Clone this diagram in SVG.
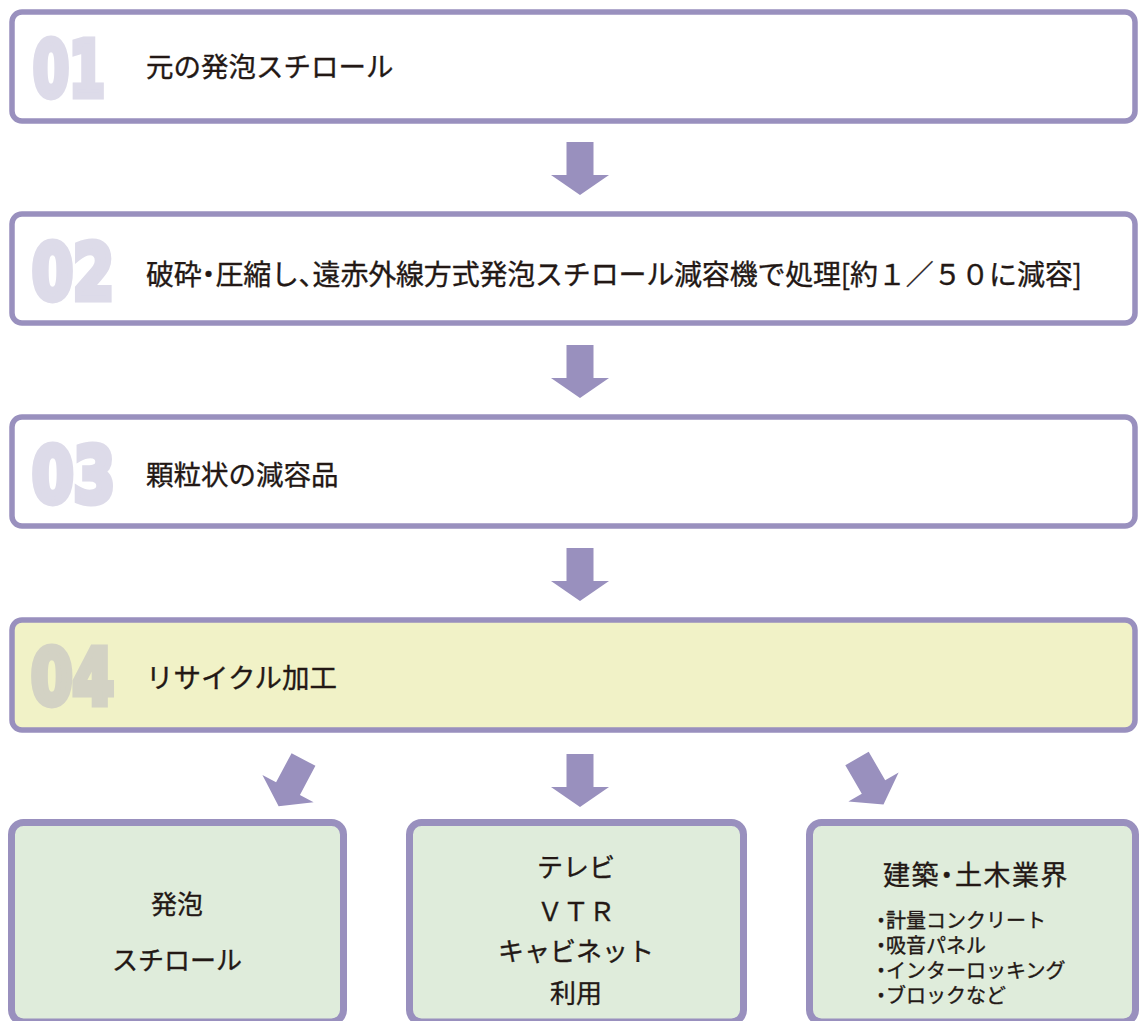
<svg xmlns="http://www.w3.org/2000/svg" width="1139" height="1021" viewBox="0 0 1139 1021">
<style>
.step{fill:#ffffff;stroke:#9990be;stroke-width:5.5}
.step4{fill:#f1f2c7;stroke:#9990be;stroke-width:5.5}
.out{fill:#dfecdb;stroke:#9990be;stroke-width:7}
.num{font-family:"DejaVu Sans",sans-serif;font-weight:bold;font-size:76px;fill:#dddbe9;stroke:#dddbe9;stroke-width:7;stroke-linejoin:miter}
.num4{fill:#d3d2c4;stroke:#d3d2c4}
.lbl,.ctr,.ttl,.sm{font-family:"Noto Sans CJK JP",sans-serif;fill:#231815;stroke:#231815;stroke-width:0.35}
.lbl{font-size:27.5px}
.ctr{font-size:26px;text-anchor:middle}
.ttl{font-size:27px;letter-spacing:1.5px}
.sm{font-size:20px}
.p{font-feature-settings:"palt"}
.arr{fill:#9990be}
</style>
<defs>
<path id="arrow" d="M-13.5 0H13.5V33H29L0 53L-29 33H-13.5Z"/>
</defs>
<g id="connectors" class="arr">
<use href="#arrow" transform="translate(580,142)"/>
<use href="#arrow" transform="translate(580,345)"/>
<use href="#arrow" transform="translate(580,548)"/>
<use href="#arrow" transform="translate(580,754)"/>
<use href="#arrow" transform="translate(303.5,759.5) rotate(28)"/>
<use href="#arrow" transform="translate(857,758.5) rotate(-30)"/>
</g>
<g id="step01">
<rect class="step" x="12" y="12" width="1123" height="109" rx="10"/>
<text class="num" x="33" y="95.5" textLength="72" lengthAdjust="spacingAndGlyphs">01</text>
<text class="lbl" x="146" y="77">元の発泡スチロール</text>
</g>
<g id="step02">
<rect class="step" x="12" y="214" width="1123" height="109" rx="10"/>
<text class="num" x="32" y="298.5" textLength="82" lengthAdjust="spacingAndGlyphs">02</text>
<text class="lbl" x="146" y="285" style="font-size:28px" textLength="936" lengthAdjust="spacing">破砕<tspan class="p">・</tspan>圧縮し<tspan class="p">、</tspan>遠赤外線方式発泡スチロール減容機で処理[約１／５０に減容]</text>
</g>
<g id="step03">
<rect class="step" x="12" y="417" width="1123" height="109" rx="10"/>
<text class="num" x="32" y="501.5" textLength="83" lengthAdjust="spacingAndGlyphs">03</text>
<text class="lbl" x="146" y="485">顆粒状の減容品</text>
</g>
<g id="step04">
<rect class="step4" x="12" y="620" width="1123" height="110" rx="10"/>
<text class="num num4" x="31" y="703.5" textLength="83" lengthAdjust="spacingAndGlyphs">04</text>
<text class="lbl" x="146" y="688">リサイクル加工</text>
</g>
<g id="out-styrofoam">
<rect class="out" x="11.5" y="822.5" width="332" height="199.5" rx="12"/>
<text class="ctr" x="177" y="914">発泡</text>
<text class="ctr" x="177" y="970">スチロール</text>
</g>
<g id="out-tv">
<rect class="out" x="409.5" y="822.5" width="334" height="199.5" rx="12"/>
<text class="ctr" x="576" y="877">テレビ</text>
<text class="ctr" x="576" y="921">ＶＴＲ</text>
<text class="ctr" x="576" y="961">キャビネット</text>
<text class="ctr" x="576" y="1003">利用</text>
</g>
<g id="out-construction">
<rect class="out" x="809.5" y="822.5" width="326" height="199.5" rx="12"/>
<text class="ttl" x="883" y="885">建築<tspan class="p">・</tspan>土木業界</text>
<text class="sm" x="876" y="928"><tspan class="p">・</tspan>計量コンクリート</text>
<text class="sm" x="876" y="953"><tspan class="p">・</tspan>吸音パネル</text>
<text class="sm" x="876" y="978"><tspan class="p">・</tspan>インターロッキング</text>
<text class="sm" x="876" y="1003"><tspan class="p">・</tspan>ブロックなど</text>
</g>
</svg>
